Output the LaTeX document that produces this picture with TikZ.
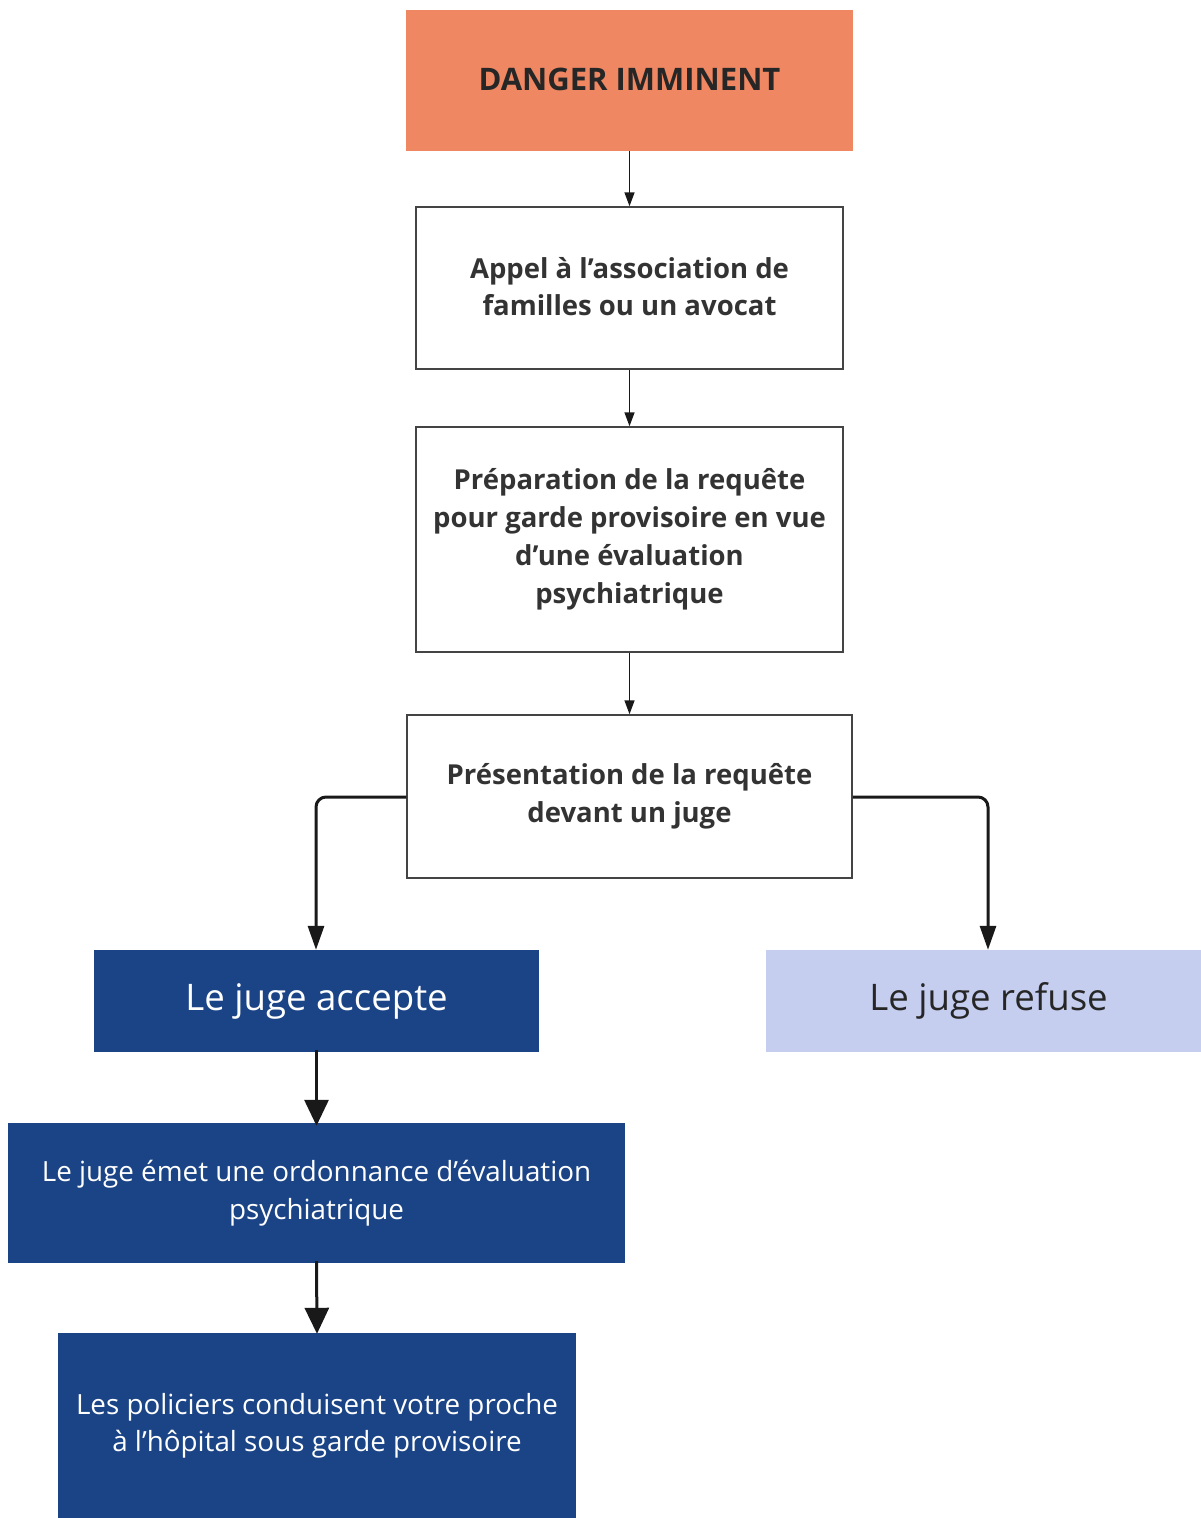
\documentclass[tikz,border=0pt]{standalone}
\usepackage{fontspec}
\setmainfont{Open Sans}
\usetikzlibrary{arrows.meta}
\definecolor{dorange}{HTML}{EE8762}
\definecolor{dblue}{HTML}{1B4486}
\definecolor{lblue}{HTML}{C6CEF0}
\definecolor{txtgray}{HTML}{333333}
\definecolor{bordergray}{HTML}{444444}
\tikzset{
  box/.style={rectangle, inner sep=0pt, align=center},
  whitebox/.style={box, draw=bordergray, line width=1.5pt, fill=white, text=txtgray,
    font=\bfseries\fontsize{27.5}{38}\selectfont},
  bluebox/.style={box, fill=dblue, text=white, font=\fontsize{27.8}{38}\selectfont},
  bigbox/.style={box, minimum height=102pt, font=\fontsize{36.6}{40}\selectfont},
  thinarrow/.style={draw=black!90, line width=1.5pt, -{Triangle[length=14pt,width=10pt]}},
  thickarrow/.style={draw=black!90, line width=3pt, -{Triangle[length=26pt,width=24pt]}},
  brarrow/.style={draw=black!90, line width=3pt, rounded corners=10pt, -{Triangle[length=24pt,width=16pt]}},
}
\begin{document}
\begin{tikzpicture}[x=1pt,y=-1pt]
\useasboundingbox (0,0) rectangle (1201,1518);
\node[box, fill=dorange, text=black!85, minimum width=447pt, minimum height=141pt,
  font=\bfseries\fontsize{31}{36}\selectfont] (danger) at (629.5,80.5) {\raisebox{3pt}{DANGER IMMINENT}};
\node[whitebox, minimum width=427pt, minimum height=162pt] (appel) at (629.5,288)
  {\raisebox{3pt}{\shortstack{Appel à l’association de\\[6pt]familles ou un avocat}}};
\node[whitebox, minimum width=427pt, minimum height=225pt] (prep) at (629.5,539.5)
  {Préparation de la requête\\pour garde provisoire en vue\\d’une évaluation\\psychiatrique};
\node[whitebox, minimum width=445pt, minimum height=163pt] (pres) at (629.5,796.5)
  {Présentation de la requête\\devant un juge};
\node[bigbox, fill=dblue, text=white, minimum width=445pt] (accepte) at (316.5,1001) {Le juge accepte};
\node[bigbox, fill=lblue, text=black!85, minimum width=435pt] (refuse) at (983.5,1001) {\hspace*{10pt}Le juge refuse};
\node[bluebox, minimum width=617pt, minimum height=140pt] (ordo) at (316.5,1193)
  {Le juge émet une ordonnance d’évaluation\\psychiatrique};
\node[bluebox, minimum width=518pt, minimum height=185pt] (police) at (317,1425.5)
  {\raisebox{-6pt}{\shortstack{Les policiers conduisent votre proche\\[6pt]à l’hôpital sous garde provisoire}}};
\draw[thinarrow] (danger.south) -- (appel.north);
\draw[thinarrow] (appel.south) -- (prep.north);
\draw[thinarrow] (prep.south) -- (pres.north);
\coordinate (lcorner) at (316,797);
\coordinate (rcorner) at (988,797);
\draw[brarrow] (pres.west |- lcorner) -- (lcorner) -- (accepte.north -| lcorner);
\draw[brarrow] (pres.east |- rcorner) -- (rcorner) -- (refuse.north -| rcorner);
\draw[thickarrow] ([yshift=2pt]accepte.south) -- ([yshift=-3pt]ordo.north);
\draw[thickarrow] ([yshift=2pt]ordo.south) -- ([yshift=-1pt]police.north);
\end{tikzpicture}
\end{document}
